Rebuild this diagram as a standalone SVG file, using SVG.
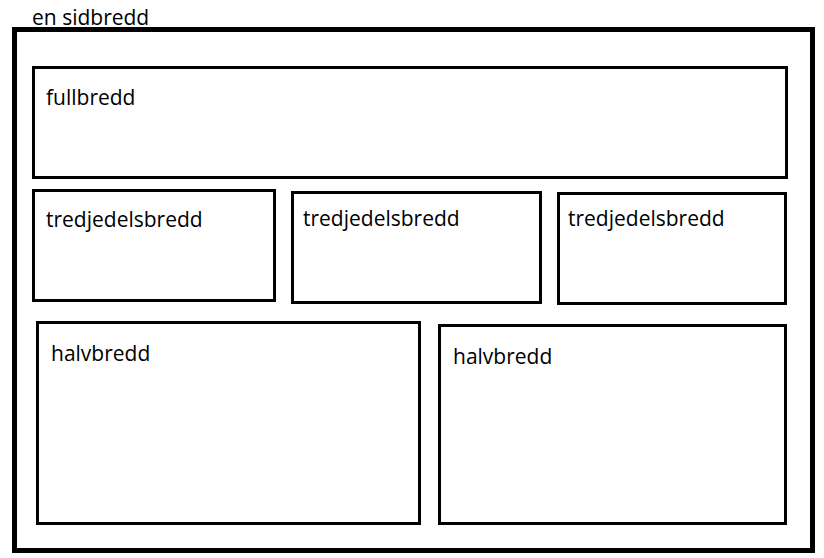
<svg xmlns="http://www.w3.org/2000/svg" width="824" height="558" viewBox="0 0 824 558">
<style>
.b{fill:#fff;stroke:#000;stroke-width:3}
text{font-family:"Open Sans","Liberation Sans",sans-serif;font-size:21px;fill:#000}
</style>
<rect width="824" height="558" fill="#fff"/>
<g id="page"><rect x="14.5" y="29.5" width="798" height="521" fill="#fff" stroke="#000" stroke-width="5"/>
<text x="32" y="25">en sidbredd</text></g>
<g id="full"><rect class="b" x="33.5" y="67.5" width="753" height="110"/><text x="46" y="105">fullbredd</text></g>
<g id="t1"><rect class="b" x="33.5" y="190.5" width="241" height="110"/><text x="46" y="227">tredjedelsbredd</text></g>
<g id="t2"><rect class="b" x="292.5" y="192.5" width="248" height="110"/><text x="303" y="226">tredjedelsbredd</text></g>
<g id="t3"><rect class="b" x="558.5" y="193.5" width="227" height="110"/><text x="568" y="226">tredjedelsbredd</text></g>
<g id="h1"><rect class="b" x="37.5" y="322.5" width="382" height="201"/><text x="51" y="361">halvbredd</text></g>
<g id="h2"><rect class="b" x="439.5" y="325.5" width="346" height="198"/><text x="453" y="364">halvbredd</text></g>
<g id="connectors"/>
</svg>
